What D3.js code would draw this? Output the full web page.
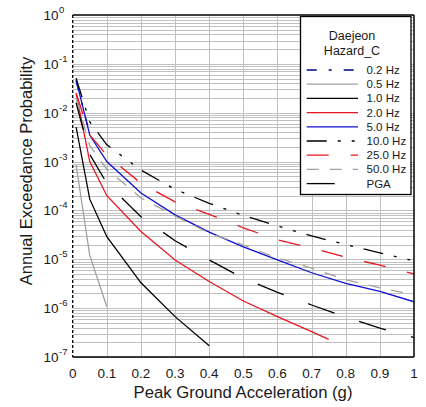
<!DOCTYPE html>
<html><head><meta charset="utf-8">
<script src="https://cdn.jsdelivr.net/npm/d3@7"></script>
<style>body{margin:0;background:#fff}svg{display:block}text{font-family:"Liberation Sans",Arial,sans-serif;fill:#1a1a1a}</style>
</head><body><svg id="c" width="426" height="407"></svg>
<script>
// ---- data ----
const xTicks = [0,0.1,0.2,0.3,0.4,0.5,0.6,0.7,0.8,0.9,1];
const xTickLabels = ["0","0.1","0.2","0.3","0.4","0.5","0.6","0.7","0.8","0.9","1"];
const yExps = [0,-1,-2,-3,-4,-5,-6,-7];
const accel = [0.01,0.05,0.1,0.2,0.3,0.4,0.5,0.6,0.7,0.8,0.9,1.0];
const accel20 = [0.01,0.05,0.1,0.2,0.3,0.4,0.5,0.6,0.7,0.75];
const hz02 = [0.045,3.6e-3];
const hz05 = [8.5e-4,1.2e-5,1.07e-6];
const hz10 = [5.1e-3,1.7e-4,2.9e-5,3.3e-6,6.7e-7,1.7e-7];
const hz20 = [0.025,1.0e-3,2.0e-4,3.7e-5,9.7e-6,3.5e-6,1.4e-6,6.7e-7,3.3e-7,2.3e-7];
const hz50 = [0.047,3.5e-3,1.0e-3,2.27e-4,8.1e-5,3.6e-5,1.8e-5,9.7e-6,5.3e-6,3.2e-6,2.2e-6,1.35e-6];
const hz100 = [0.051,6.5e-3,2.2e-3,6.7e-4,2.7e-4,1.4e-4,7.9e-5,4.8e-5,3.0e-5,2.0e-5,1.35e-5,9.3e-6];
const hz250 = [0.025,3.5e-3,1.35e-3,3.6e-4,1.5e-4,8.3e-5,4.4e-5,2.5e-5,1.7e-5,1.1e-5,7.6e-6,5.0e-6];
const hz500 = [0.02,2.1e-3,7.05e-4,1.8e-4,7.7e-5,3.45e-5,1.96e-5,1.06e-5,6.6e-6,3.8e-6,2.6e-6,1.86e-6];
const pga = [0.016,1.4e-3,3.6e-4,7.4e-5,2.4e-5,9.7e-6,4.1e-6,2.1e-6,1.16e-6,6.6e-7,3.9e-7,2.5e-7];
const seriesNames = ["0.2 Hz","0.5 Hz","1.0 Hz","2.0 Hz","5.0 Hz","10.0 Hz","25.0 Hz","50.0 Hz","PGA"];
const seriesValues = [hz02,hz05,hz10,hz20,hz50,hz100,hz250,hz500,pga];
const legendTitle = ["Daejeon","Hazard_C"];

// ---- styles ----
const styles = [
  {c:"#000080",d:"10,12,3,12"},
  {c:"#a0a0a0",d:null},
  {c:"#000000",d:null},
  {c:"#e8161e",d:null},
  {c:"#1010d0",d:null},
  {c:"#000000",d:"20,11,3,11,3,11"},
  {c:"#e8161e",d:"22,22"},
  {c:"#a0a0a0",d:"12,11"},
  {c:"#000000",d:"28,26"}
];

const svg = d3.select("#c");
const L=72.7,R=414,T=15,B=357;
const x = d3.scaleLinear().domain([0,1]).range([L,R]);
const y = d3.scaleLog().domain([1e-7,1]).range([B,T]);

// grid
const g = svg.append("g");
const minor=[];
for(let e=-7;e<0;e++) for(let m=1;m<10;m++) minor.push(m*Math.pow(10,e));
g.selectAll(".hg").data(minor).enter().append("line")
  .attr("x1",L).attr("x2",R).attr("y1",d=>Math.round(y(d))+0.5).attr("y2",d=>Math.round(y(d))+0.5)
  .attr("stroke","#c0c0c0").attr("stroke-width",1);
g.selectAll(".vg").data(xTicks.slice(1,-1)).enter().append("line")
  .attr("y1",T).attr("y2",B).attr("x1",d=>Math.round(x(d))+0.5).attr("x2",d=>Math.round(x(d))+0.5)
  .attr("stroke","#c0c0c0").attr("stroke-width",1);

// curves
svg.append("clipPath").attr("id","clip").append("rect").attr("x",L).attr("y",T).attr("width",R-L).attr("height",B-T);
const line = d3.line().x(d=>x(d[0])).y(d=>y(d[1]));
const cg = svg.append("g").attr("clip-path","url(#clip)");
seriesValues.forEach((vals,i)=>{
  const xs = (i===3)?accel20:accel;
  const pts = vals.map((v,j)=>[xs[j],v]);
  cg.append("path").attr("d",line(pts)).attr("fill","none")
    .attr("stroke",styles[i].c).attr("stroke-width",1.3)
    .attr("stroke-dasharray",styles[i].d);
});
// frame
svg.append("line").attr("x1",L).attr("x2",R).attr("y1",T).attr("y2",T).attr("stroke","#000").attr("stroke-width",1.5);
svg.append("line").attr("x1",R).attr("x2",R).attr("y1",T).attr("y2",B).attr("stroke","#000").attr("stroke-width",1.5);
svg.append("line").attr("x1",L).attr("x2",R).attr("y1",B).attr("y2",B).attr("stroke","#000").attr("stroke-width",1.5);
svg.append("line").attr("x1",L).attr("x2",L).attr("y1",T).attr("y2",B).attr("stroke","#000").attr("stroke-width",1.3).attr("stroke-dasharray","3,2");

// x tick labels
svg.selectAll(".xt").data(xTicks).enter().append("text")
  .attr("x",d=>x(d)).attr("y",378).attr("text-anchor","middle").attr("font-size","13.5px")
  .text((d,i)=>xTickLabels[i]);
// y tick labels
const yl = svg.selectAll(".yt").data(yExps).enter().append("g");
yl.append("text").attr("x",58.5).attr("y",d=>y(Math.pow(10,d))+5).attr("text-anchor","end").attr("font-size","13.5px").text("10");
yl.append("text").attr("x",59).attr("y",d=>y(Math.pow(10,d))-2).attr("font-size","9.5px").text(d=>String(d));

// axis titles
svg.append("text").attr("x",243).attr("y",398).attr("text-anchor","middle").attr("font-size","16.7px").text("Peak Ground Acceleration (g)");
svg.append("text").attr("transform","translate(31.5,171) rotate(-90)").attr("text-anchor","middle").attr("font-size","16.5px").text("Annual Exceedance Probability");

// legend
const lg = svg.append("g");
lg.append("rect").attr("x",300.5).attr("y",16.5).attr("width",110.5).attr("height",178).attr("fill","#fff").attr("stroke","#000").attr("stroke-width",1.3);
legendTitle.forEach((t,i)=>lg.append("text").attr("x",352).attr("y",40+i*14.5).attr("text-anchor","middle").attr("font-size","12.5px").text(t));
seriesNames.forEach((n,i)=>{
  const cy = 70+i*14.2;
  lg.append("line").attr("x1",306.7).attr("x2",358).attr("y1",cy).attr("y2",cy)
    .attr("stroke",styles[i].c).attr("stroke-width",1.3).attr("stroke-dasharray",styles[i].d);
  lg.append("text").attr("x",366.5).attr("y",cy+4).attr("font-size","11.5px").text(n);
});
</script></body></html>
